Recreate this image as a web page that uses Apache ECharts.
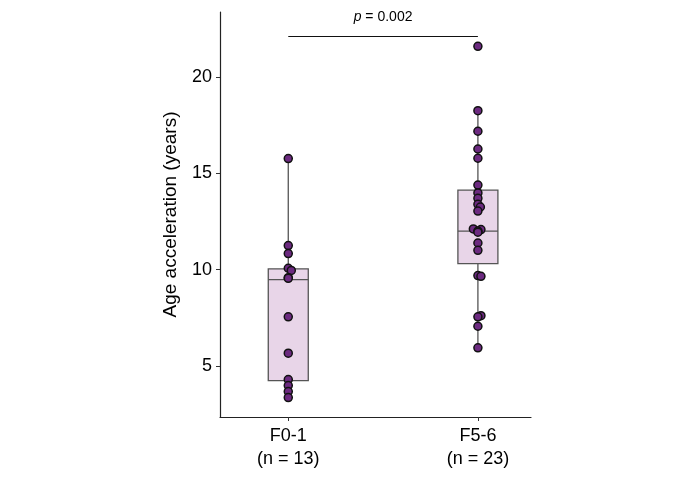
<!DOCTYPE html>
<html>
<head>
<meta charset="utf-8">
<script src="https://cdn.jsdelivr.net/npm/echarts@6/dist/echarts.min.js"></script>
<style>
  html, body { margin: 0; padding: 0; background: #fff; }
  #chart { width: 692px; height: 484px; }
</style>
</head>
<body>
<div id="chart"></div>
<script>
const categories = ['F0-1', 'F5-6'];
const groupSizes = [13, 23];

// box stats: [group index, min, Q1, median, Q3, max]
const boxStats = [
  [0, 3.36, 4.24, 9.48, 10.04, 15.76],
  [1, 5.94, 10.31, 12.0, 14.12, 18.25],
];

// individual points (value) and small horizontal dodge (in category units)
const f01Values = [15.76, 11.25, 10.83, 10.07, 9.96, 9.58, 9.55, 7.55, 5.66, 4.29, 3.98, 3.67, 3.36];
const f01Offsets = [0, 0, 0, 0, 0.016, 0, 0, 0, 0, 0, 0, 0, 0];
const f56Values = [21.59, 18.25, 17.18, 16.26, 15.78, 14.39, 13.98, 13.70, 13.39, 13.25, 13.04,
  12.11, 12.08, 12.0, 11.94, 11.38, 11.0, 9.69, 9.65, 7.61, 7.55, 7.06, 5.94];
const f56Offsets = [0, 0, 0, 0, 0, 0, 0, 0, 0, 0.013, 0, -0.024, 0.016, 0, 0, 0, 0, 0, 0.016, 0.016, 0, 0, 0];

const yTicks = [5, 10, 15, 20];
const pValue = 0.002;
const pBarY = 22.13;

const yMin = 2.35;
const yMax = 23.37;

const points = [];
f01Values.forEach((v, i) => points.push([0 + f01Offsets[i], v]));
f56Values.forEach((v, i) => points.push([1 + f56Offsets[i], v]));

const boxHalf = 20; // px

function renderBox(params, api) {
  const x = api.value(0);
  const lo = api.coord([x, api.value(1)]);
  const q1 = api.coord([x, api.value(2)]);
  const med = api.coord([x, api.value(3)]);
  const q3 = api.coord([x, api.value(4)]);
  const hi = api.coord([x, api.value(5)]);
  const cx = q1[0];
  const lineStyle = { stroke: '#555', lineWidth: 1.3 };
  return {
    type: 'group',
    children: [
      { type: 'line', shape: { x1: cx, y1: lo[1], x2: cx, y2: q1[1] }, style: lineStyle },
      { type: 'line', shape: { x1: cx, y1: q3[1], x2: cx, y2: hi[1] }, style: lineStyle },
      {
        type: 'rect',
        shape: { x: cx - boxHalf, y: q3[1], width: boxHalf * 2, height: q1[1] - q3[1] },
        style: { fill: '#e8d5e8', stroke: '#555', lineWidth: 1.3 },
      },
      { type: 'line', shape: { x1: cx - boxHalf, y1: med[1], x2: cx + boxHalf, y2: med[1] }, style: lineStyle },
    ],
  };
}

const chart = echarts.init(document.getElementById('chart'));

chart.setOption({
  animation: false,
  textStyle: { fontFamily: 'Liberation Sans, Arial, sans-serif' },
  grid: { left: 220, right: 161, top: 12, bottom: 67 },
  xAxis: {
    type: 'value',
    min: -0.36,
    max: 1.28,
    splitLine: { show: false },
    axisLine: { show: true, onZero: false, lineStyle: { color: '#222', width: 1.2 } },
    axisTick: { show: true, customValues: [0, 1], length: 4, lineStyle: { color: '#333' } },
    axisLabel: {
      customValues: [0, 1],
      color: '#000',
      fontSize: 18,
      lineHeight: 23,
      margin: 8,
      formatter: (v) => {
        const i = Math.round(v);
        return categories[i] + '\n(n = ' + groupSizes[i] + ')';
      },
    },
  },
  yAxis: {
    type: 'value',
    min: yMin,
    max: yMax,
    name: 'Age acceleration (years)',
    nameLocation: 'middle',
    nameGap: 40,
    nameTextStyle: { color: '#000', fontSize: 19 },
    splitLine: { show: false },
    axisLine: { show: true, onZero: false, lineStyle: { color: '#222', width: 1.2 } },
    axisTick: { show: true, customValues: yTicks, length: 4, lineStyle: { color: '#333' } },
    axisLabel: { customValues: yTicks, color: '#000', fontSize: 18, margin: 8 },
  },
  series: [
    {
      type: 'custom',
      renderItem: renderBox,
      data: boxStats,
      encode: { x: 0, y: [1, 2, 3, 4, 5] },
      z: 1,
    },
    {
      type: 'scatter',
      data: points,
      symbolSize: 8,
      itemStyle: { color: '#6c2a80', borderColor: '#111', borderWidth: 1.5, opacity: 1 },
      z: 3,
      markLine: {
        silent: true,
        symbol: 'none',
        lineStyle: { color: '#111', width: 1.2, type: 'solid' },
        label: {
          show: true,
          position: 'middle',
          distance: 12,
          color: '#000',
          fontSize: 14,
          formatter: '{i|p} = ' + pValue,
          rich: { i: { fontStyle: 'italic', fontSize: 14, color: '#000' } },
        },
        data: [[{ coord: [0, pBarY] }, { coord: [1, pBarY] }]],
      },
    },
  ],
});
</script>
</body>
</html>
